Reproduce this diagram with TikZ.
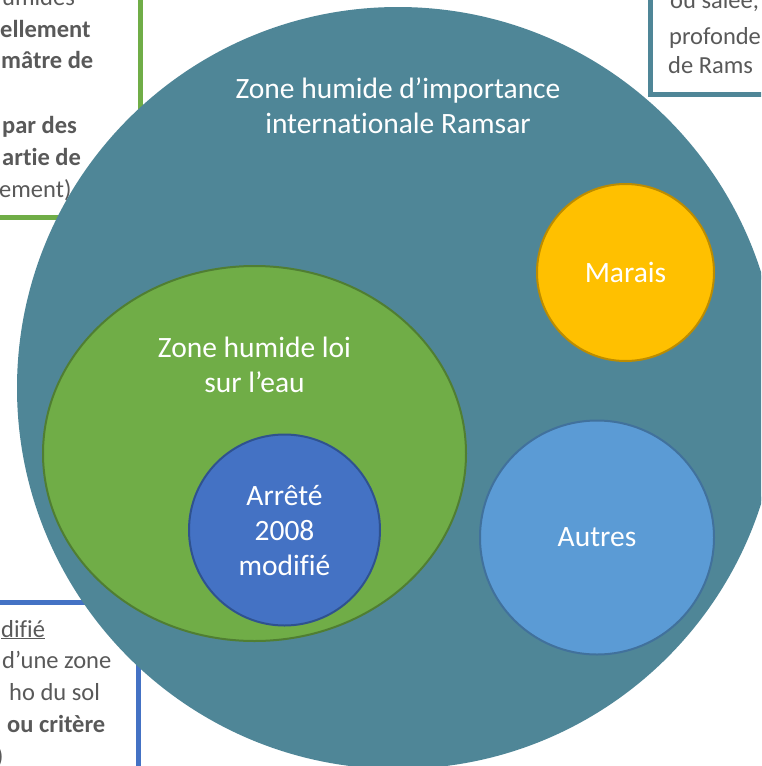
\documentclass[tikz,border=0pt]{standalone}
\usepackage{fontspec}
\setmainfont{Carlito}[Ligatures=NoCommon]
\usepackage{tikz}
\usetikzlibrary{shapes.geometric}

\definecolor{ramsarteal}{RGB}{79,134,151}
\definecolor{loigreen}{RGB}{112,173,71}
\definecolor{loigreenline}{RGB}{80,126,50}
\definecolor{arreteblue}{RGB}{68,114,196}
\definecolor{arreteline}{RGB}{47,82,143}
\definecolor{maraisgold}{RGB}{255,192,0}
\definecolor{maraisline}{RGB}{188,140,0}
\definecolor{autresblue}{RGB}{91,155,213}
\definecolor{autresline}{RGB}{65,113,156}
\definecolor{notegray}{RGB}{89,89,89}

\begin{document}
\begin{tikzpicture}[x=1pt, y=-1pt,
    every node/.style={inner sep=0pt},
    zone/.style={circle, line width=2pt, minimum size=#1},
    zonetext/.style={text=white, font=\fontsize{29.5}{35}\selectfont, align=center},
    boxtext/.style={text=notegray, font=\fontsize{24.5}{30}\selectfont, anchor=base west},
    notebox/.style={draw=#1, line width=5pt, fill=white}]
  \useasboundingbox (0,0) rectangle (761,766);
  \clip (0,0) rectangle (761,766);

  % side notes, cut by the page
  \draw[notebox=loigreen] (-20,-20) rectangle (140,217);
  \node[boxtext] (g1) at (2,5) {umides};
  \node[boxtext] (g2) at (0,37) {\bfseries ellement};
  \node[boxtext] (g3) at (1,68) {\bfseries mâtre de};
  \node[boxtext] (g4) at (2,133) {\bfseries par des};
  \node[boxtext] (g5) at (2,165) {\bfseries artie de};
  \node[boxtext] (g6) at (-1,197) {ement)};

  \draw[notebox=ramsarteal] (650,-20) rectangle (790,94);
  \node[boxtext] (t1) at (670,8) {ou salée,};
  \node[boxtext] (t2) at (669,44) {profonde};
  \node[boxtext] (t3) at (668,73) {de Rams};

  \draw[notebox=arreteblue] (-20,602) rectangle (138.5,790);
  \node[boxtext] (b1) at (1,637) {\underline{difié}};
  \node[boxtext] (b2) at (2,668) {d’une zone};
  \node[boxtext] (b3) at (9,700) {ho du sol};
  \node[boxtext] (b4) at (7,732) {\bfseries ou critère};
  \node[boxtext] (b5) at (-4,764) {)};

  % nested zones
  \node[zone=760pt, fill=ramsarteal, draw=ramsarteal] (ramsar) at (398,388) {};
  \node[ellipse, line width=2pt, draw=loigreenline, fill=loigreen,
        minimum width=423pt, minimum height=375pt] (loi) at (254.5,453.5) {};
  \node[zone=191pt, draw=arreteline, fill=arreteblue] (arrete) at (284.5,530) {};
  \node[zone=177pt, draw=maraisline, fill=maraisgold, zonetext] (marais) at (625.5,272.5) {Marais};
  \node[zone=234pt, draw=autresline, fill=autresblue, zonetext] (autres) at (597,537.5) {Autres};

  % anchor=base sits on the last line
  \node[zonetext, anchor=base] (ramsartext) at (398,133) {Zone humide d’importance\\internationale Ramsar};
  \node[zonetext, anchor=base] (loitext) at (254.5,392) {Zone humide loi\\sur l’eau};
  \node[zonetext, anchor=base] (arretetext) at (284.5,575) {Arrêté\\2008\\modifié};
\end{tikzpicture}
\end{document}
